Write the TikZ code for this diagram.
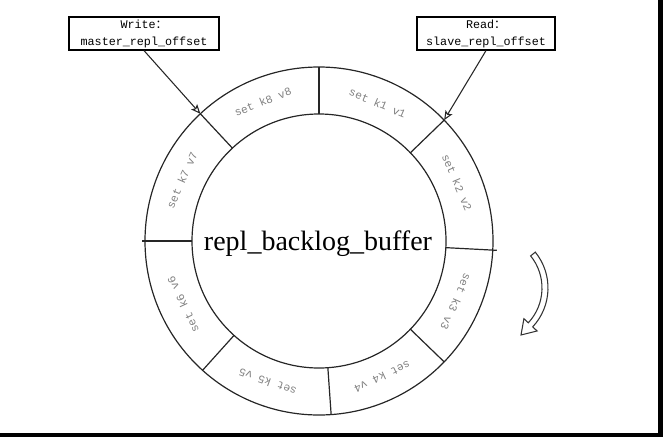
\documentclass[tikz,border=0pt]{standalone}
\usepackage{fontspec}
\setmainfont{Liberation Serif}
\setmonofont{Liberation Mono}
\newfontfamily\cjk{Noto Sans CJK SC}
\usetikzlibrary{arrows.meta}
\begin{document}
\begin{tikzpicture}[x=0.75pt,y=0.75pt,
  ring/.style={line width=0.9pt, draw=black!85},
  lbl/.style={text=black!50, font=\ttfamily\fontsize{8.4}{10}\selectfont, inner sep=0pt},
  infobox/.style={draw, line width=0.9pt, align=center, minimum height=24.75pt, inner sep=1pt,
     font=\ttfamily\fontsize{8.8}{12.75}\selectfont},
  ptr/.style={line width=0.8pt, draw=black!85, -{Stealth[open,length=7pt,width=6pt,inset=1.5pt]}},
  bigtxt/.style={font=\fontsize{21}{25}\selectfont, inner sep=0pt, anchor=base},
  turn/.style={line width=0.8pt, draw=black!80, fill=white}]
\useasboundingbox (0,0) rectangle (663,437);
% shadow bars
\fill (658,0) rectangle (663,437);
\fill (0,0) rectangle (663,4);
% ring
\coordinate (c) at (319,196);
\draw[ring] (c) circle[radius=174];
\draw[ring] (c) circle[radius=127];
\foreach \n/\a/\r in {1/90/174, 2/44/174, 3/-3/178, 4/-44/174, 5/-86/174, 6/-132/174, 7/180/177, 8/133/174} {
  \path (c) ++(\a:127) coordinate (i\n);
  \path (c) ++(\a:\r) coordinate (o\n);
  \draw[ring] (i\n) -- (o\n);
}
% labels
\foreach \n/\t/\a in {1/k1 v1/67, 2/k2 v2/23, 3/k3 v3/-24, 4/k4 v4/-65, 5/k5 v5/-110, 6/k6 v6/-155, 7/k7 v7/156, 8/k8 v8/112} {
  \path (c) ++(\a:150) node[lbl, rotate=\a-90] (l\n) {set \t};
}
\node[bigtxt] (title) at (318,187) {repl\_backlog\_buffer};
% boxes
\node[infobox, minimum width=112.5pt] (wbox) at (144,403.5) {Write\cjk{：}\\master\_repl\_offset};
\node[infobox, minimum width=103.5pt] (rbox) at (486,403.5) {Read\cjk{：}\\slave\_repl\_offset};
\draw[ptr] (wbox.south) -- (o8);
\draw[ptr] (rbox.south) -- (o2);
% rotation arrow
\draw[turn, shift={(491,149)}] (39:57) arc[start angle=39, end angle=-43, radius=57]
  -- (-43:63) -- (30,-47) -- (-43:45) -- (-43:51)
  arc[start angle=-43, end angle=39, radius=51] -- cycle;
\end{tikzpicture}
\end{document}
